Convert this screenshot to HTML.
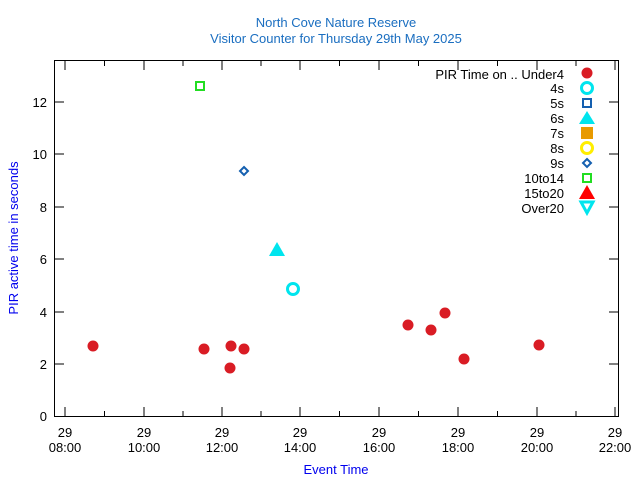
<!DOCTYPE html>
<html><head><meta charset="utf-8"><style>
html,body{margin:0;padding:0;background:#fff}
text{font-family:"Liberation Sans",sans-serif;font-size:13px}
</style></head><body>
<svg width="640" height="480" xmlns="http://www.w3.org/2000/svg">
<rect width="640" height="480" fill="#fff"/>
<text x="336" y="27" text-anchor="middle" fill="#1a6ec0">North Cove Nature Reserve</text>
<text x="336" y="43" text-anchor="middle" fill="#1a6ec0">Visitor Counter for Thursday 29th May 2025</text>
<g stroke="#000" stroke-width="1" fill="none">
<rect x="54.5" y="60.5" width="564" height="356"/>
<!-- x ticks -->
<path d="M65,416v-9M144,416v-9M222,416v-9M300,416v-9M379,416v-9M458,416v-9M537,416v-9M615,416v-9
M104.5,416v-5M183,416v-5M261,416v-5M339.5,416v-5M418.5,416v-5M497.5,416v-5M576,416v-5
M65,61v9M144,61v9M222,61v9M300,61v9M379,61v9M458,61v9M537,61v9M615,61v9
M104.5,61v5M183,61v5M261,61v5M339.5,61v5M418.5,61v5M497.5,61v5M576,61v5
M55,364h9M55,312h9M55,259h9M55,207h9M55,154h9M55,102h9
M618,364h-9M618,312h-9M618,259h-9M618,207h-9M618,154h-9M618,102h-9"/>
</g>
<g text-anchor="end" fill="#000">
<text x="47" y="421">0</text><text x="47" y="369">2</text><text x="47" y="317">4</text>
<text x="47" y="264">6</text><text x="47" y="212">8</text><text x="47" y="159">10</text><text x="47" y="107">12</text>
</g>
<g text-anchor="middle" fill="#000">
<text x="65" y="437">29</text><text x="65" y="452">08:00</text>
<text x="144" y="437">29</text><text x="144" y="452">10:00</text>
<text x="222" y="437">29</text><text x="222" y="452">12:00</text>
<text x="300" y="437">29</text><text x="300" y="452">14:00</text>
<text x="379" y="437">29</text><text x="379" y="452">16:00</text>
<text x="458" y="437">29</text><text x="458" y="452">18:00</text>
<text x="537" y="437">29</text><text x="537" y="452">20:00</text>
<text x="615" y="437">29</text><text x="615" y="452">22:00</text>
</g>
<text x="336" y="474" text-anchor="middle" fill="#0000ee">Event Time</text>
<text transform="translate(18,238) rotate(-90)" text-anchor="middle" fill="#0000ee">PIR active time in seconds</text>
<!-- data -->
<g fill="#d91c24">
<circle cx="93" cy="346" r="5.5"/><circle cx="204" cy="349" r="5.5"/><circle cx="231" cy="346" r="5.5"/>
<circle cx="230" cy="368" r="5.5"/><circle cx="244" cy="349" r="5.5"/><circle cx="408" cy="325" r="5.5"/>
<circle cx="431" cy="330" r="5.5"/><circle cx="445" cy="313" r="5.5"/><circle cx="464" cy="359" r="5.5"/>
<circle cx="539" cy="345" r="5.5"/>
</g>
<circle cx="293" cy="289" r="5.5" fill="none" stroke="#00e5ee" stroke-width="3"/>
<polygon points="277,242 285,256 269,256" fill="#00e5ee"/>
<polygon points="244,167 248,171 244,175 240,171" fill="none" stroke="#1560b0" stroke-width="2"/>
<rect x="196" y="82" width="8" height="8" fill="none" stroke="#22dd22" stroke-width="2"/>
<!-- legend -->
<g text-anchor="end" fill="#000">
<text x="564" y="79">PIR Time on .. Under4</text>
<text x="564" y="93">4s</text><text x="564" y="108">5s</text><text x="564" y="123">6s</text>
<text x="564" y="138">7s</text><text x="564" y="153">8s</text><text x="564" y="168">9s</text>
<text x="564" y="183">10to14</text><text x="564" y="198">15to20</text><text x="564" y="213">Over20</text>
</g>
<circle cx="587" cy="73" r="5.5" fill="#d91c24"/>
<circle cx="587" cy="88" r="5.5" fill="none" stroke="#00e5ee" stroke-width="3"/>
<rect x="583" y="99" width="8" height="8" fill="none" stroke="#1560b0" stroke-width="2"/>
<polygon points="587,111 595,124 579,124" fill="#00e5ee"/>
<rect x="581" y="127" width="12" height="12" fill="#e89a00"/>
<circle cx="587" cy="148" r="5.5" fill="none" stroke="#ffee00" stroke-width="3"/>
<polygon points="587,159 591,163 587,167 583,163" fill="none" stroke="#1560b0" stroke-width="2"/>
<rect x="583" y="174" width="8" height="8" fill="none" stroke="#22dd22" stroke-width="2"/>
<polygon points="587,185 595,199 579,199" fill="#ff0000"/>
<polygon points="581,202 593,202 587,213" fill="none" stroke="#00e5ee" stroke-width="3"/>
</svg>
</body></html>
